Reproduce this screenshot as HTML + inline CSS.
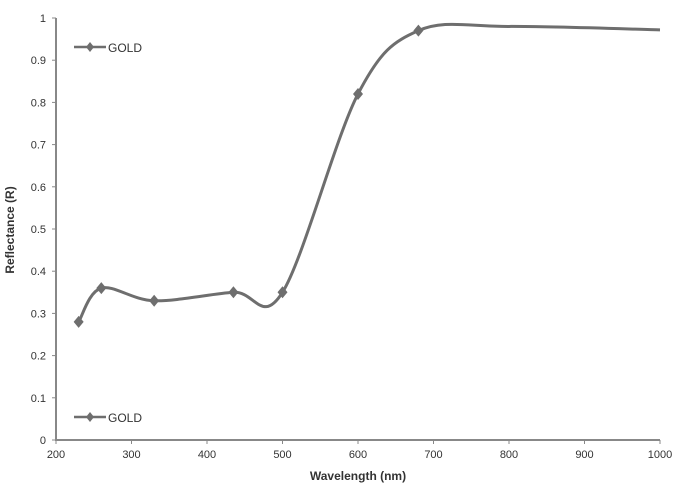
<!DOCTYPE html>
<html><head><meta charset="utf-8"><style>
body{margin:0;background:#fff;}
svg{display:block;font-family:"Liberation Sans",sans-serif;}
</style></head><body>
<svg id="chart" width="679" height="500"></svg>
<script>
const xTicks=[200,300,400,500,600,700,800,900,1000];
const yTicks=[0,0.1,0.2,0.3,0.4,0.5,0.6,0.7,0.8,0.9,1];
const yTickLabels=["0","0.1","0.2","0.3","0.4","0.5","0.6","0.7","0.8","0.9","1"];
const wavelengths=[230,260,330,435,500,600,680,800,1000];
const reflectance=[0.28,0.36,0.33,0.35,0.35,0.82,0.97,0.98,0.972];
const hasMarker=[1,1,1,1,1,1,1,0,0];
const NS="http://www.w3.org/2000/svg";
const svg=document.getElementById('chart');
const X=v=>56+(v-200)*604/800;
const Y=v=>440-v*422;
function el(t,a,p){const e=document.createElementNS(NS,t);for(const k in a)e.setAttribute(k,a[k]);(p||svg).appendChild(e);return e;}
const ax=el('path',{d:`M56 18 V440 H660`,fill:'none',stroke:'#888','stroke-width':2});


yTicks.forEach((v,i)=>{
 const t=el('line',{x1:52,x2:56,y1:Y(v),y2:Y(v),stroke:'#888'});
 
 
 const l=el('text',{x:46,y:Y(v)+4,'text-anchor':'end','font-size':11,fill:'#333'});
 l.textContent=yTickLabels[i];
 
 
});
xTicks.forEach(v=>{
 const t=el('line',{x1:X(v),x2:X(v),y1:440,y2:444,stroke:'#888'});
 
 
 const l=el('text',{x:X(v),y:458,'text-anchor':'middle','font-size':11,fill:'#333'});
 l.textContent=v;
 
 
});
const xt=el('text',{x:358,y:480,'text-anchor':'middle','font-size':12,'font-weight':'bold',fill:'#333'});
xt.textContent='Wavelength (nm)';


const yt=el('text',{x:0,y:0,'text-anchor':'middle','font-size':12,'font-weight':'bold',fill:'#333',transform:'translate(14,230) rotate(-90)'});
yt.textContent='Reflectance (R)';


const P=wavelengths.map((w,i)=>[X(w),Y(reflectance[i])]);
let d=`M${P[0][0]} ${P[0][1]}`;
for(let i=0;i<P.length-1;i++){
 const p0=P[Math.max(0,i-1)],p1=P[i],p2=P[i+1],p3=P[Math.min(P.length-1,i+2)];
 const c1=[p1[0]+(p2[0]-p0[0])/6,p1[1]+(p2[1]-p0[1])/6];
 const c2=[p2[0]-(p3[0]-p1[0])/6,p2[1]-(p3[1]-p1[1])/6];
 d+=` C${c1[0]} ${c1[1]} ${c2[0]} ${c2[1]} ${p2[0]} ${p2[1]}`;
}
const line=el('path',{d,fill:'none',stroke:'#6e6e6e','stroke-width':3});


P.forEach((p,i)=>{if(!hasMarker[i])return;
 const m=el('path',{d:`M${p[0]} ${p[1]-6} L${p[0]+5} ${p[1]} L${p[0]} ${p[1]+6} L${p[0]-5} ${p[1]} Z`,fill:'#6e6e6e'});
 
 
});
[[47],[417]].forEach(([y],k)=>{
 const g=el('g',{});
 
 
 el('line',{x1:74,x2:106,y1:y,y2:y,stroke:'#6e6e6e','stroke-width':2.5},g);
 el('path',{d:`M90 ${y-5} L94 ${y} L90 ${y+5} L86 ${y} Z`,fill:'#6e6e6e'},g);
 const t=el('text',{x:108,y:y+5,'font-size':12,fill:'#333'},g);
 t.textContent='GOLD';
});
</script>
</body></html>
